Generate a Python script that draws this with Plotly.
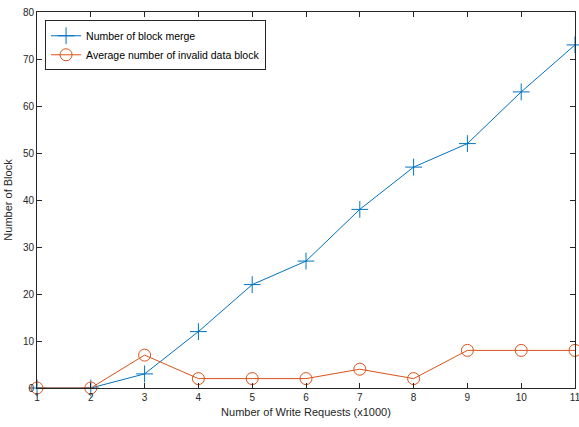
import plotly.graph_objects as go

x_vals = [1, 2, 3, 4, 5, 6, 7, 8, 9, 10, 11]
block_merge = [0, 0, 3, 12, 22, 27, 38, 47, 52, 63, 73]
invalid_blocks = [0, 0, 7, 2, 2, 2, 4, 2, 8, 8, 8]
series_names = ["Number of block merge", "Average number of invalid data block"]

FONT = "Liberation Sans, Arial, sans-serif"

fig = go.Figure()
fig.add_trace(go.Scatter(
    x=x_vals, y=block_merge, name=series_names[0], mode="lines+markers",
    line=dict(color="#0072BD", width=1), cliponaxis=False,
    marker=dict(symbol="cross-thin-open", size=12, line=dict(color="#0072BD", width=1), color="#0072BD"),
))
fig.add_trace(go.Scatter(
    x=x_vals, y=invalid_blocks, name=series_names[1], mode="lines+markers",
    line=dict(color="#D95319", width=1), cliponaxis=False,
    marker=dict(symbol="circle-open", size=12, line=dict(color="#D95319", width=1), color="#D95319"),
))

axis_common = dict(
    showgrid=False, zeroline=False, showline=True, linecolor="#262626", linewidth=1,
    mirror="ticks", ticks="inside", ticklen=5, tickcolor="#262626", automargin=False,
    ticklabeloverflow="allow",
    tickfont=dict(family=FONT, size=10, color="#262626"),
)
fig.update_xaxes(range=[1, 11], tickvals=x_vals, title=dict(text="Number of Write Requests (x1000)",
                 font=dict(family=FONT, size=11, color="#262626"), standoff=6),
                 **axis_common)
fig.update_yaxes(range=[0, 80], tickvals=list(range(0, 81, 10)), title=dict(text="Number of Block",
                 font=dict(family=FONT, size=11, color="#262626"), standoff=8),
                 **axis_common)
fig.update_layout(
    width=579, height=427, margin=dict(l=37, r=4, t=12, b=39),
    paper_bgcolor="white", plot_bgcolor="white",
    font=dict(family=FONT, size=10, color="#262626"),
    legend=dict(x=0.015, y=0.978, xanchor="left", yanchor="top", bgcolor="white",
                bordercolor="#262626", borderwidth=1, tracegroupgap=0,
                font=dict(family=FONT, size=10.5, color="black"),
                itemwidth=30),
    showlegend=True,
)
fig.write_html("out.html", config={"displayModeBar": False},
               post_script="document.body.style.margin='0';document.body.style.overflow='hidden';")
